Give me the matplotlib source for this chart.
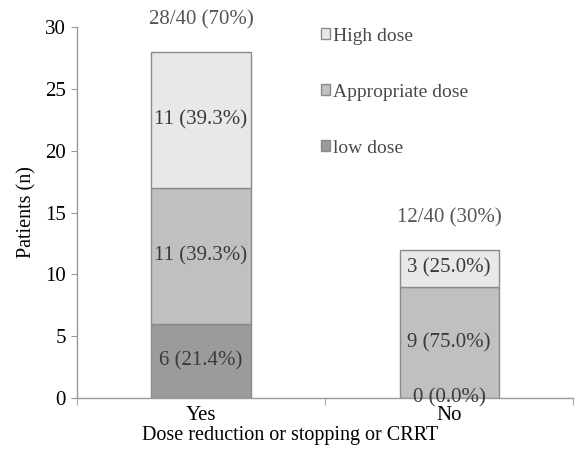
import matplotlib
matplotlib.use("Agg")
import matplotlib.pyplot as plt
import numpy as np

plt.rcParams['font.family'] = ['Liberation Serif', 'DejaVu Serif']

categories = ["Yes", "No"]
series_names = ["low dose", "Appropriate dose", "High dose"]
low_dose = [6, 0]
appropriate_dose = [11, 9]
high_dose = [11, 3]
segment_labels = [
    ["6 (21.4%)", "0 (0.0%)"],
    ["11 (39.3%)", "9 (75.0%)"],
    ["11 (39.3%)", "3 (25.0%)"],
]
total_labels = ["28/40 (70%)", "12/40 (30%)"]
yticks = [0, 5, 10, 15, 20, 25, 30]

colors = ["#9b9b9b", "#c0c0c0", "#e8e8e8"]

fig = plt.figure(figsize=(5.77, 4.57), dpi=100)
ax = fig.add_axes([0.1334, 0.129, 0.860, 0.812])

x = np.arange(len(categories))
bottom = np.zeros(len(categories))
handles = []
for vals, col, name, labs in zip([low_dose, appropriate_dose, high_dose], colors,
                                 series_names, segment_labels):
    vals = np.array(vals, dtype=float)
    b = ax.bar(x, vals, width=0.4, bottom=bottom, color=col,
               edgecolor="#8a8a8a", linewidth=1.0, label=name)
    handles.append(b)
    for xi, v, b0, lab in zip(x, vals, bottom, labs):
        ax.text(xi, b0 + v / 2, lab, ha="center", va="center",
                fontsize=15, color="#3a3a3a")
    bottom += vals

for xi, tot, lab in zip(x, bottom, total_labels):
    ax.text(xi, tot + 2.6, lab, ha="center", va="center",
            fontsize=15, color="#555555")

ax.set_xlim(-0.5, 1.5)
ax.set_ylim(0, 30)
ax.set_yticks(yticks)
ax.set_xticks(x)
ax.set_xticklabels(categories)
ax.set_xticks([-0.5, 0.5, 1.5], minor=True)
ax.tick_params(axis="x", which="major", length=0, labelsize=15, pad=6)
ax.tick_params(axis="x", which="minor", length=5, color="#999999")
ax.tick_params(axis="y", length=4, color="#999999", labelsize=15, pad=4)

for s in ["top", "right"]:
    ax.spines[s].set_visible(False)
for s in ["left", "bottom"]:
    ax.spines[s].set_color("#999999")
    ax.spines[s].set_linewidth(1.0)

ax.set_ylabel("Patients (n)", fontsize=14.5, labelpad=6)
ax.set_xlabel("Dose reduction or stopping or CRRT", fontsize=14.5, labelpad=0)
ax.xaxis.set_label_coords(0.43, -0.075)

leg = ax.legend(handles=handles[::-1], labels=series_names[::-1],
                loc="upper left", bbox_to_anchor=(0.456, 1.045), frameon=False,
                fontsize=14, handlelength=0.5, handleheight=0.5,
                handletextpad=0.15, labelspacing=2.0, labelcolor="#4a4a4a")

fig.savefig("out.png", dpi=100)
